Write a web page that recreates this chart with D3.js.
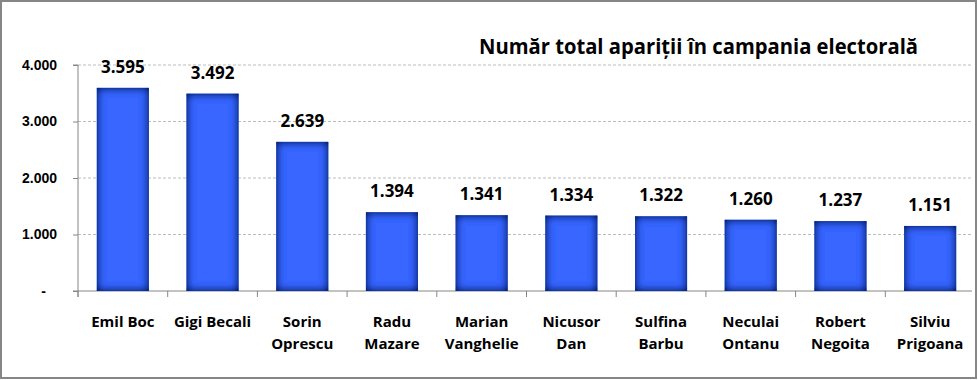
<!DOCTYPE html>
<html>
<head>
<meta charset="utf-8">
<script src="https://cdn.jsdelivr.net/npm/d3@7"></script>
<style>
  body { margin: 0; background: #fff; }
  svg { display: block; font-family: "Open Sans", "DejaVu Sans", sans-serif; }
</style>
</head>
<body>
<div id="chart"></div>
<script>
// data
var names = [["Emil Boc"], ["Gigi Becali"], ["Sorin", "Oprescu"], ["Radu", "Mazare"],
  ["Marian", "Vanghelie"], ["Nicusor", "Dan"], ["Sulfina", "Barbu"], ["Neculai", "Ontanu"],
  ["Robert", "Negoita"], ["Silviu", "Prigoana"]]
var values = [3595, 3492, 2639, 1394, 1341, 1334, 1322, 1260, 1237, 1151]
var yTicks = [0, 1000, 2000, 3000, 4000]
var title = "Număr total apariții în campania electorală"

var width = 978, height = 380
var plotL = 78, plotR = 975, plotT = 65, plotB = 291

var svg = d3.select("#chart").append("svg")
  .attr("width", width)
  .attr("height", height)

// inner shadow for the bars
var defs = svg.append("defs")
var f = defs.append("filter").attr("id", "inner")
  .attr("x", "-20%").attr("y", "-20%").attr("width", "140%").attr("height", "140%")
f.append("feFlood").attr("flood-color", "#0a1766").attr("result", "flood")
f.append("feComposite").attr("in", "flood").attr("in2", "SourceAlpha").attr("operator", "out").attr("result", "outside")
f.append("feGaussianBlur").attr("in", "outside").attr("stdDeviation", 4.5).attr("result", "blur")
f.append("feComposite").attr("in", "blur").attr("in2", "SourceAlpha").attr("operator", "in").attr("result", "shadow")
var fm = f.append("feMerge")
fm.append("feMergeNode").attr("in", "SourceGraphic")
fm.append("feMergeNode").attr("in", "shadow")
fm.append("feMergeNode").attr("in", "shadow")

// outer frame
svg.append("rect")
  .attr("x", 1).attr("y", 1)
  .attr("width", 975).attr("height", 377)
  .attr("fill", "#fff")
  .attr("stroke", "#868686")
  .attr("stroke-width", 2)

var x = d3.scaleBand()
  .domain(d3.range(values.length))
  .range([plotL, plotR])
  .paddingInner(0.42)
  .paddingOuter(0.21)

var y = d3.scaleLinear()
  .domain([0, 4000])
  .range([plotB, plotT])

// gridlines
svg.selectAll(".grid")
  .data(yTicks.filter(function (d) { return d > 0 }))
  .enter()
  .append("line")
  .attr("x1", plotL).attr("x2", 972)
  .attr("y1", function (d) { return y(d) }).attr("y2", function (d) { return y(d) })
  .attr("stroke", "#bdbdbd")
  .attr("stroke-dasharray", "3,2")

// y axis
var yAxis = d3.axisLeft(y)
  .tickValues(yTicks)
  .tickSize(5)
  .tickPadding(16)
  .tickFormat(function (d) { return d === 0 ? "-" : d3.format(",")(d).replace(/,/g, ".") })

var ya = svg.append("g")
  .attr("transform", "translate(" + plotL + ",0)")
  .call(yAxis)
ya.select(".domain").attr("stroke", "#868686").attr("d", "M-5," + plotT + "H0V" + (plotB + 6))
ya.selectAll(".tick line").attr("stroke", "#868686")
ya.selectAll(".tick text")
  .attr("fill", "#000")
  .style("font-size", "14px")
  .style("font-weight", "bold")
  .attr("dx", function (d) { return d === 0 ? -11 : 0 })

// x axis line and tick marks at category boundaries
var xa = svg.append("g")
xa.append("line")
  .attr("x1", plotL - 5).attr("x2", 972)
  .attr("y1", plotB).attr("y2", plotB)
  .attr("stroke", "#868686")
xa.selectAll(".xt")
  .data(d3.range(values.length))
  .enter()
  .append("line")
  .attr("x1", function (d) { return x(d) - x.step() * x.paddingOuter() })
  .attr("x2", function (d) { return x(d) - x.step() * x.paddingOuter() })
  .attr("y1", plotB).attr("y2", plotB + 6)
  .attr("stroke", "#868686")

// bars
svg.selectAll(".bar")
  .data(values)
  .enter()
  .append("rect")
  .attr("x", function (d, i) { return x(i) })
  .attr("y", function (d) { return y(d) })
  .attr("width", x.bandwidth())
  .attr("height", function (d) { return plotB - y(d) })
  .attr("fill", "#3766ff")
  .attr("filter", "url(#inner)")

// value labels
svg.selectAll(".val")
  .data(values)
  .enter()
  .append("text")
  .attr("x", function (d, i) { return x(i) + x.bandwidth() / 2 })
  .attr("y", function (d) { return y(d) - 15 })
  .attr("text-anchor", "middle")
  .style("font-size", "17px")
  .style("font-weight", "bold")
  .text(function (d) { return d3.format(",")(d).replace(/,/g, ".") })

// category labels
var cats = svg.selectAll(".cat")
  .data(names)
  .enter()
  .append("text")
  .attr("text-anchor", "middle")
  .style("font-size", "15px")
  .style("font-weight", "bold")
cats.selectAll("tspan")
  .data(function (d, i) { return d.map(function (t) { return { t: t, i: i } }) })
  .enter()
  .append("tspan")
  .attr("x", function (d) { return x(d.i) + x.bandwidth() / 2 })
  .attr("y", function (d, j) { return 327 + j * 22 })
  .text(function (d) { return d.t })

// title
svg.append("text")
  .attr("x", 479)
  .attr("y", 54)
  .attr("textLength", 439)
  .attr("lengthAdjust", "spacingAndGlyphs")
  .style("font-size", "21px")
  .style("font-weight", "bold")
  .text(title)
</script>
</body>
</html>
